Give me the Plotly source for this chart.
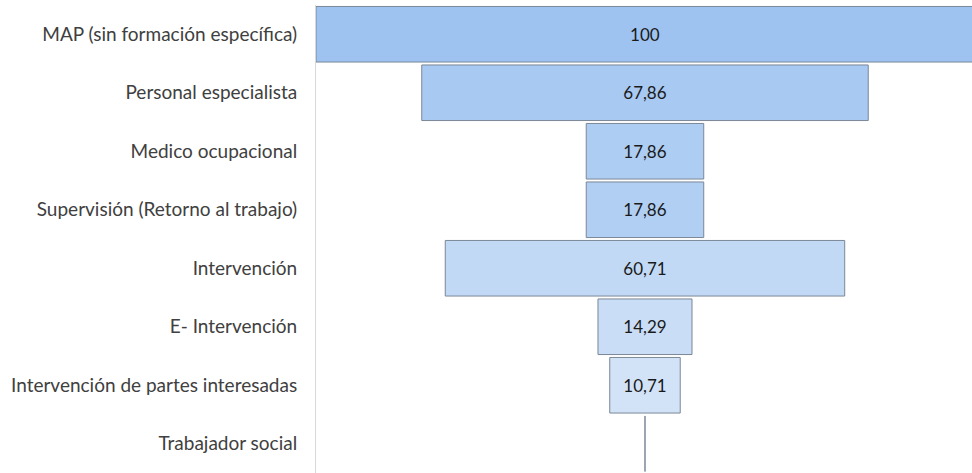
import plotly.graph_objects as go

# Funnel rows, top to bottom
categories = [
    "MAP (sin formación específica)",
    "Personal especialista",
    "Medico ocupacional",
    "Supervisión (Retorno al trabajo)",
    "Intervención",
    "E- Intervención",
    "Intervención de partes interesadas",
    "Trabajador social",
]
values = [100, 67.86, 17.86, 17.86, 60.71, 14.29, 10.71, 0]
fill_colors = [
    "#9ec3f0", "#a8c9f1", "#aecdf2", "#b1cff3",
    "#c2d9f5", "#c9ddf6", "#d2e3f8", "#d8e6f8",
]


def fmt(v):
    if v == 0:
        return ""
    if float(v).is_integer():
        return str(int(v))
    return f"{v:.2f}".replace(".", ",")


labels = [fmt(v) for v in values]

fig = go.Figure()
fig.add_trace(go.Bar(
    y=categories,
    x=values,
    base=[-v / 2 for v in values],
    orientation="h",
    marker=dict(color=fill_colors, line=dict(color="#7b8796", width=1)),
    text=labels,
    textposition="inside",
    insidetextanchor="middle",
    textangle=0,
    textfont=dict(family="Lato, Carlito, sans-serif", size=17, color="#1a1a1a"),
    hoverinfo="skip",
    showlegend=False,
))

fig.update_layout(
    width=972,
    height=473,
    margin=dict(l=316, r=0, t=5, b=0),
    paper_bgcolor="white",
    plot_bgcolor="white",
    bargap=0.05,
    uniformtext=dict(minsize=17, mode="show"),
    xaxis=dict(range=[-50, 49.7], visible=False, fixedrange=True),
    yaxis=dict(
        autorange="reversed",
        showline=True,
        linecolor="#d9d9d9",
        linewidth=1,
        showgrid=False,
        zeroline=False,
        ticks="",
        ticklabelstandoff=14,
        tickfont=dict(family="Lato, Carlito, sans-serif", size=19, color="#404040"),
    ),
)

fig.write_html("out.html")
